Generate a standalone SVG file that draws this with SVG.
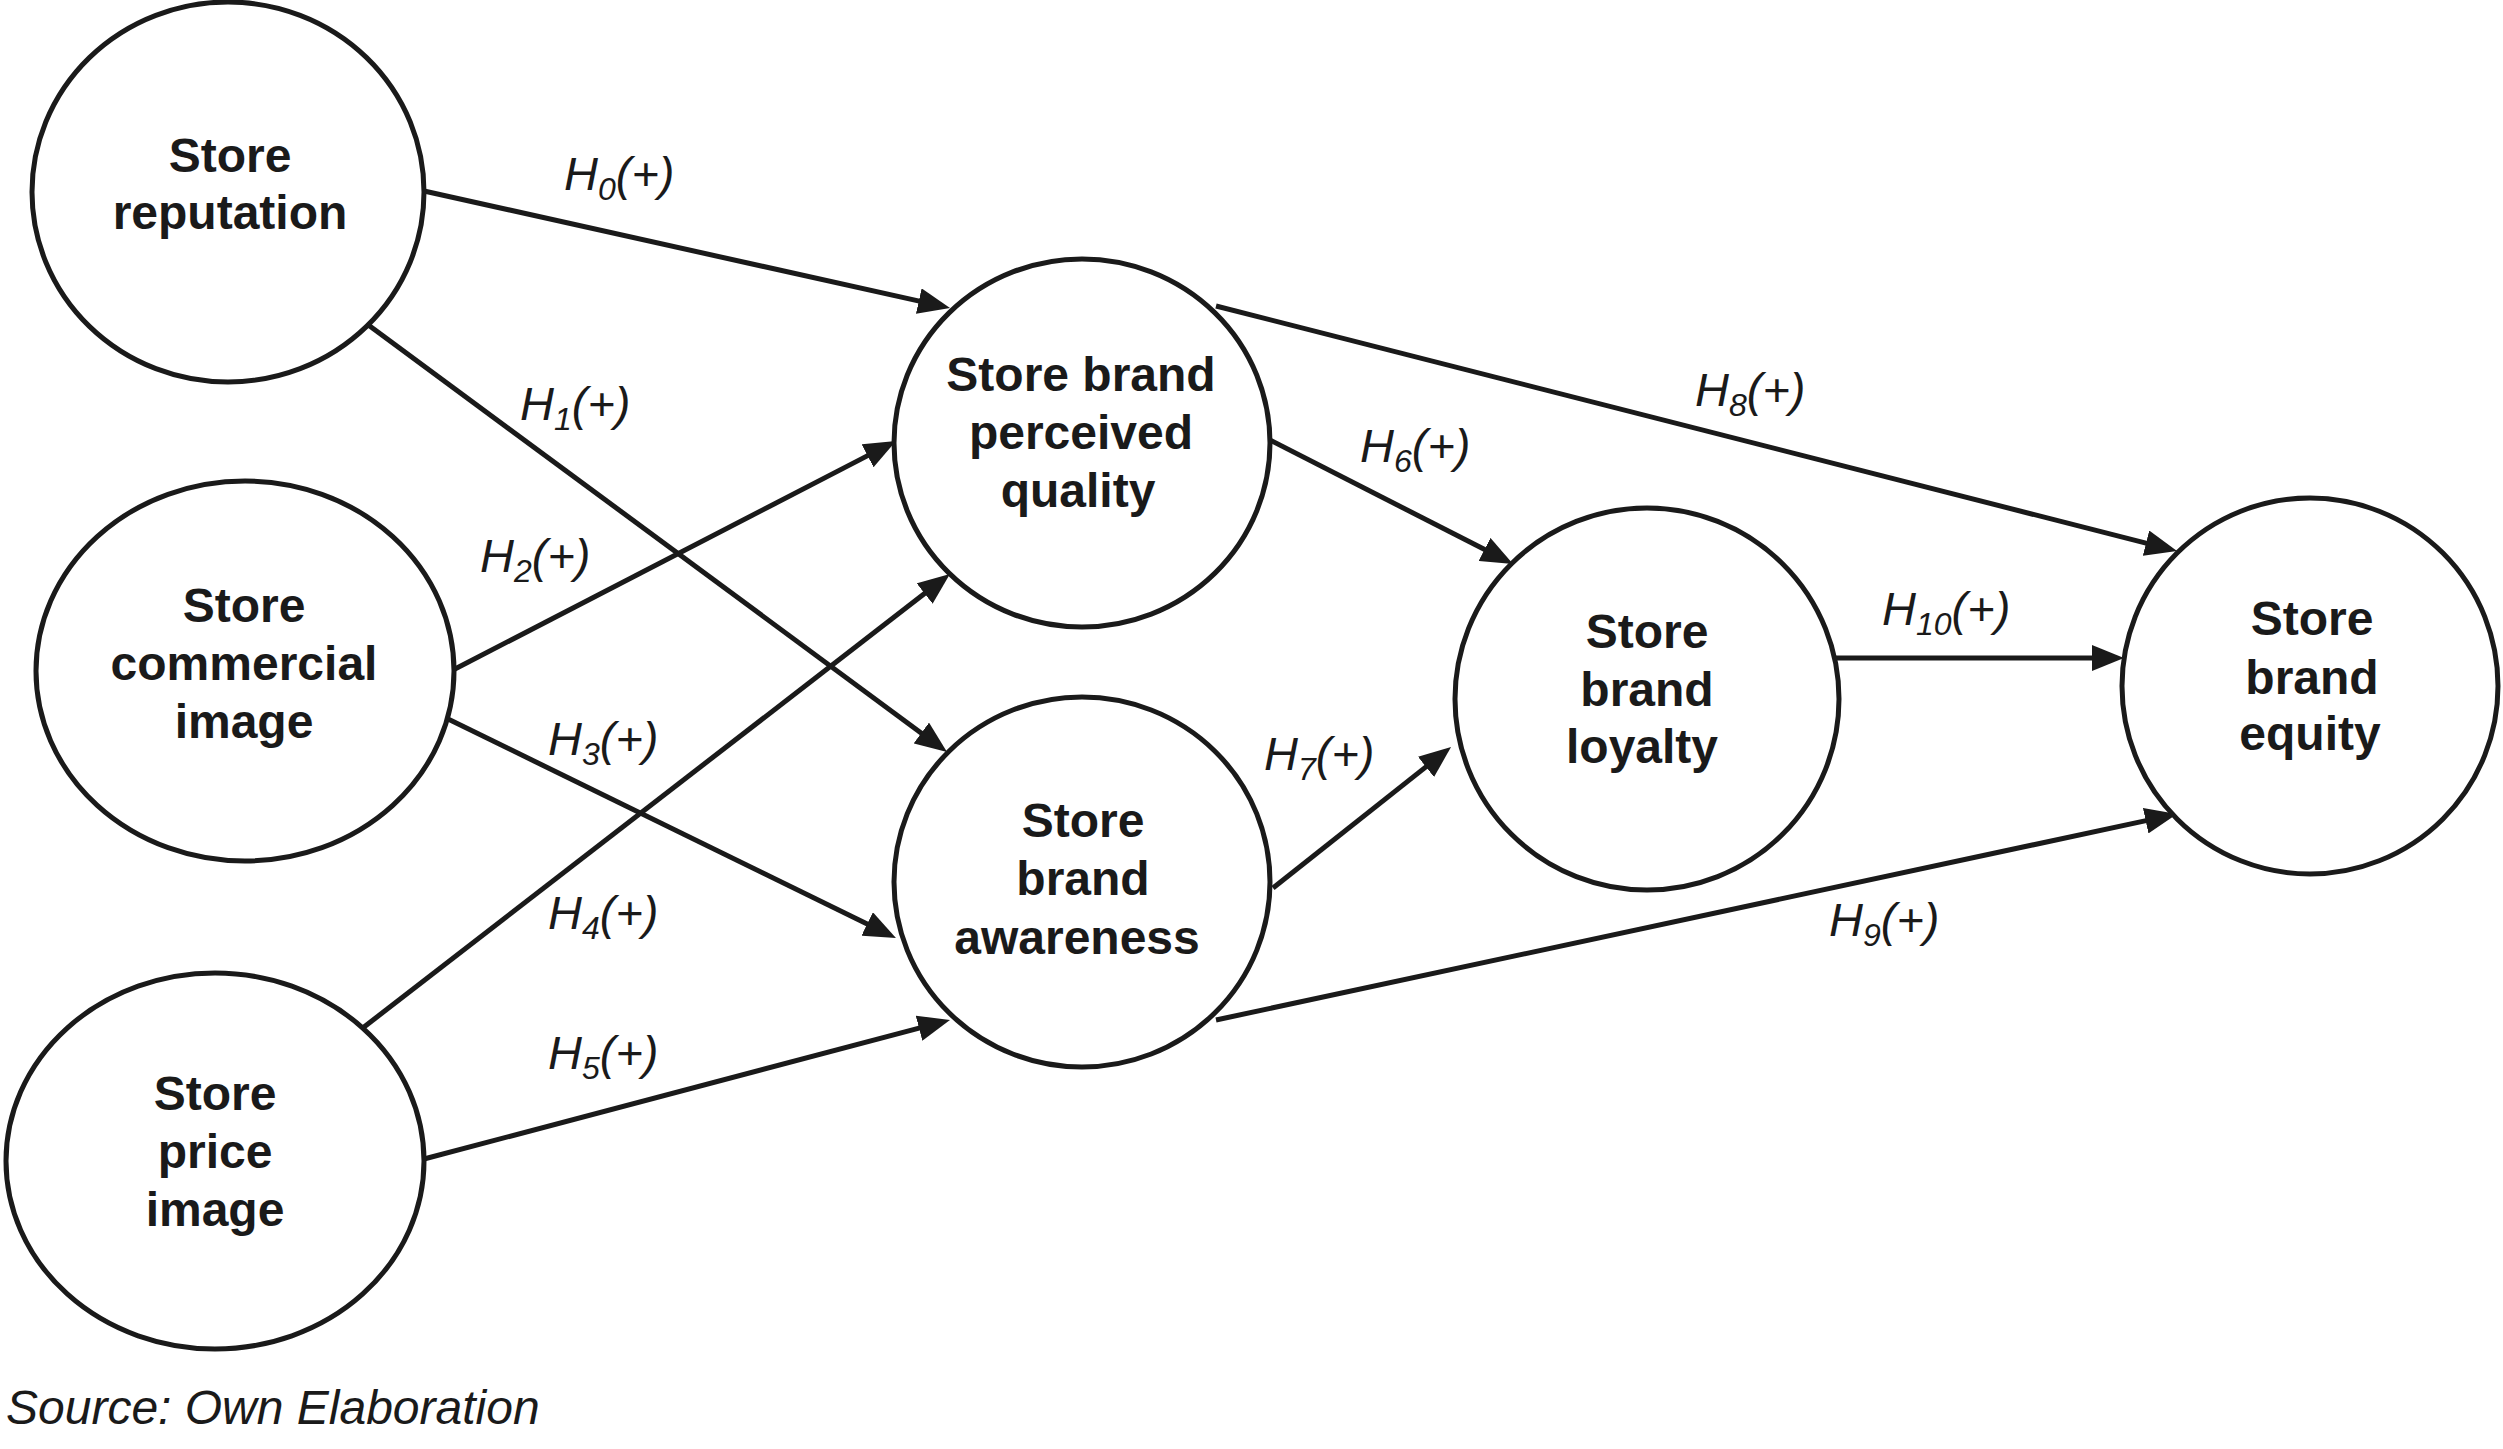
<svg xmlns="http://www.w3.org/2000/svg" width="2503" height="1449" viewBox="0 0 2503 1449">
<style>
.node ellipse{fill:#fff;stroke:#1a1a1a;stroke-width:5}
.node text{font-family:"Liberation Sans",Arial,sans-serif;font-weight:bold;font-size:48px;fill:#1a1a1a;text-anchor:middle}
.conn path{fill:none;stroke:#1a1a1a;stroke-width:5;marker-end:url(#arr)}
.lbl{font-family:"Liberation Sans",Arial,sans-serif;font-style:italic;font-size:47px;fill:#1a1a1a}
.sub{font-size:32px}
.src{font-family:"Liberation Sans",Arial,sans-serif;font-style:italic;font-size:48px;fill:#1a1a1a}
</style>
<defs>
<marker id="arr" markerUnits="userSpaceOnUse" markerWidth="32" markerHeight="26" refX="4" refY="13" orient="auto">
<path d="M0,0 L32,13 L0,26 z" fill="#1a1a1a"/>
</marker>
</defs>
<rect width="2503" height="1449" fill="#fff"/>
<g id="connectors" class="conn">
<path d="M424,191 L922.7,301.9"/>
<path d="M367,324 L924.5,735.4"/>
<path d="M453,670 L871.1,453.9"/>
<path d="M446,718 L870.8,925.7"/>
<path d="M364,1027 L927.8,591.1"/>
<path d="M424,1159 L922.9,1027.2"/>
<path d="M1268,439 L1488.1,551.3"/>
<path d="M1273,888 L1429.1,764.4"/>
<path d="M1216,306 L2149.9,544.1"/>
<path d="M1216,1020 L2149.6,819.9"/>
<path d="M1834,658 L2096,658"/>
</g>
<g id="labels">
<text class="lbl" x="564" y="190">H<tspan class="sub" dy="10">0</tspan><tspan dy="-10">(+)</tspan></text>
<text class="lbl" x="520" y="420">H<tspan class="sub" dy="10">1</tspan><tspan dy="-10">(+)</tspan></text>
<text class="lbl" x="480" y="572">H<tspan class="sub" dy="10">2</tspan><tspan dy="-10">(+)</tspan></text>
<text class="lbl" x="548" y="755">H<tspan class="sub" dy="10">3</tspan><tspan dy="-10">(+)</tspan></text>
<text class="lbl" x="548" y="929">H<tspan class="sub" dy="10">4</tspan><tspan dy="-10">(+)</tspan></text>
<text class="lbl" x="548" y="1069">H<tspan class="sub" dy="10">5</tspan><tspan dy="-10">(+)</tspan></text>
<text class="lbl" x="1360" y="462">H<tspan class="sub" dy="10">6</tspan><tspan dy="-10">(+)</tspan></text>
<text class="lbl" x="1264" y="770">H<tspan class="sub" dy="10">7</tspan><tspan dy="-10">(+)</tspan></text>
<text class="lbl" x="1695" y="406">H<tspan class="sub" dy="10">8</tspan><tspan dy="-10">(+)</tspan></text>
<text class="lbl" x="1829" y="936">H<tspan class="sub" dy="10">9</tspan><tspan dy="-10">(+)</tspan></text>
<text class="lbl" x="1882" y="625">H<tspan class="sub" dy="10">10</tspan><tspan dy="-10">(+)</tspan></text>
</g>
<g id="store-reputation" class="node">
<ellipse cx="228" cy="192" rx="196" ry="190"/>
<text x="230" y="172">Store</text>
<text x="230" y="229">reputation</text>
</g>
<g id="store-commercial-image" class="node">
<ellipse cx="245" cy="671" rx="209" ry="190"/>
<text x="244" y="622">Store</text>
<text x="244" y="680">commercial</text>
<text x="244" y="738">image</text>
</g>
<g id="store-price-image" class="node">
<ellipse cx="215" cy="1161" rx="209" ry="188"/>
<text x="215" y="1110">Store</text>
<text x="215" y="1168">price</text>
<text x="215" y="1226">image</text>
</g>
<g id="store-brand-perceived-quality" class="node">
<ellipse cx="1082" cy="443" rx="188" ry="184"/>
<text x="1081" y="391">Store brand</text>
<text x="1081" y="449">perceived</text>
<text x="1078" y="507">quality</text>
</g>
<g id="store-brand-awareness" class="node">
<ellipse cx="1082" cy="882" rx="188" ry="185"/>
<text x="1083" y="837">Store</text>
<text x="1083" y="895">brand</text>
<text x="1077" y="954">awareness</text>
</g>
<g id="store-brand-loyalty" class="node">
<ellipse cx="1647" cy="699" rx="192" ry="191"/>
<text x="1647" y="648">Store</text>
<text x="1647" y="706">brand</text>
<text x="1642" y="763">loyalty</text>
</g>
<g id="store-brand-equity" class="node">
<ellipse cx="2310" cy="686" rx="188" ry="188"/>
<text x="2312" y="635">Store</text>
<text x="2312" y="694">brand</text>
<text x="2310" y="750">equity</text>
</g>
<text class="src" x="6" y="1424">Source: Own Elaboration</text>
</svg>
